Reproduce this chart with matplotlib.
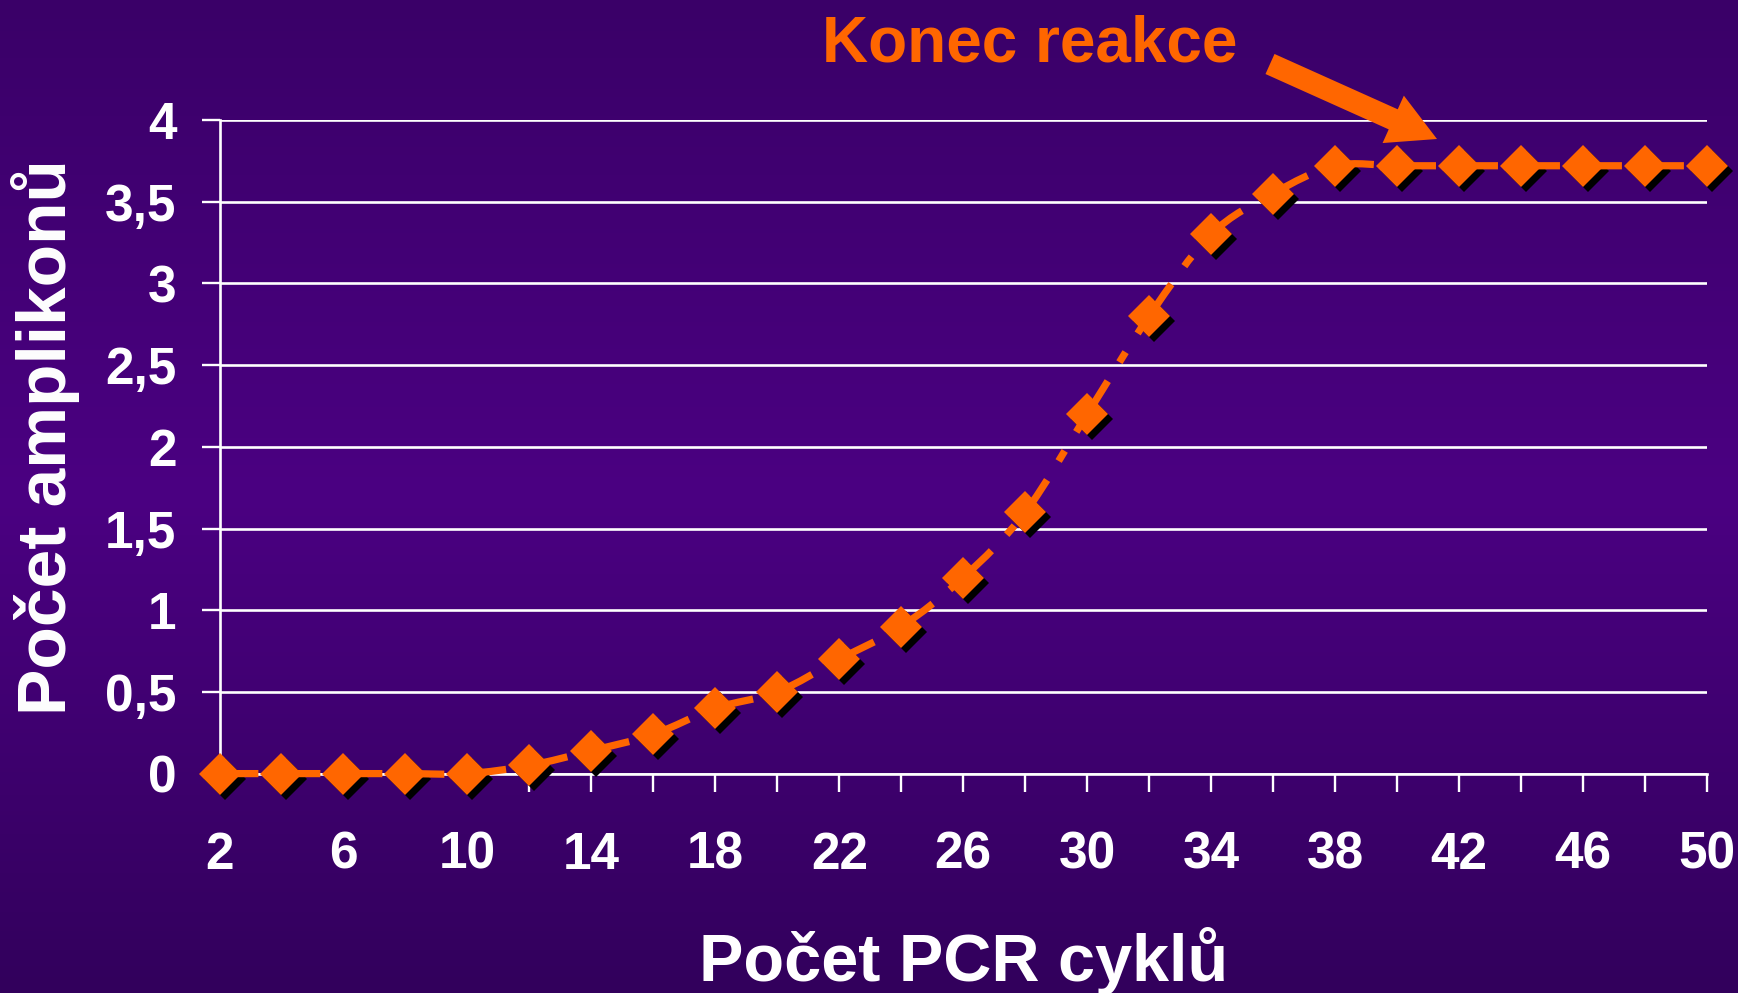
import numpy as np
import matplotlib
matplotlib.use("Agg")
import matplotlib.pyplot as plt
from matplotlib.colors import LinearSegmentedColormap
from matplotlib.path import Path
from matplotlib.patches import PathPatch, FancyArrow
import matplotlib.transforms as mtransforms

plt.rcParams['font.family'] = ['Liberation Sans', 'DejaVu Sans']
plt.rcParams['font.weight'] = 'bold'
plt.rcParams['lines.scale_dashes'] = False

# ---- data ----
cycles = [2, 4, 6, 8, 10, 12, 14, 16, 18, 20, 22, 24, 26, 28, 30, 32, 34, 36,
          38, 40, 42, 44, 46, 48, 50]
amplicons = [0, 0, 0, 0, 0, 0.05, 0.14, 0.24, 0.40, 0.50, 0.70, 0.90, 1.20,
             1.60, 2.20, 2.80, 3.30, 3.55, 3.72, 3.72, 3.72, 3.72, 3.72, 3.72, 3.72]
x_major = [2, 6, 10, 14, 18, 22, 26, 30, 34, 38, 42, 46, 50]
x_minor = [4, 8, 12, 16, 20, 24, 28, 32, 36, 40, 44, 48]
y_ticks = [0, 0.5, 1, 1.5, 2, 2.5, 3, 3.5, 4]
y_tick_labels = ["0", "0,5", "1", "1,5", "2", "2,5", "3", "3,5", "4"]
x_title = "Počet PCR cyklů"
y_title = "Počet amplikonů"
note = "Konec reakce"

ORANGE = "#FF6600"
W, H = 1738, 993
fig = plt.figure(figsize=(W / 100, H / 100), dpi=100)

# background gradient
bg = fig.add_axes([0, 0, 1, 1], zorder=-5)
cmap = LinearSegmentedColormap.from_list(
    "bg", [(0.0, "#3a0068"), (0.5, "#4b0082"), (1.0, "#32005c")])
grad = np.linspace(0, 1, 256).reshape(-1, 1)
bg.imshow(grad, aspect='auto', cmap=cmap, extent=[0, 1, 0, 1], origin='upper')
bg.set_axis_off()

# main axes
L, R, T, B = 219.5, 1707, 120, 773.6
ax = fig.add_axes([L / W, 1 - B / H, (R - L) / W, (B - T) / H])
ax.patch.set_alpha(0)
ax.set_xlim(2, 50)
ax.set_ylim(0, 4)

for s in ['top', 'right']:
    ax.spines[s].set_visible(False)
for s in ['left', 'bottom']:
    ax.spines[s].set_color('white')
    ax.spines[s].set_linewidth(1.9)
    ax.spines[s].set_zorder(1)

ax.set_yticks(y_ticks)
ax.set_yticklabels(y_tick_labels)
ax.set_xticks(x_major)
ax.set_xticks(x_minor, minor=True)
ax.tick_params(axis='y', colors='white', labelsize=37, length=13, width=1.7,
               direction='out', pad=18)
ax.tick_params(axis='x', which='both', colors='white', labelsize=37, length=13,
               width=1.7, direction='out', pad=28)
for lab in ax.get_xticklabels() + ax.get_yticklabels():
    lab.set_fontweight('bold')
ax.yaxis.grid(True, color='white', linewidth=1.9, zorder=0)
ax.set_axisbelow(True)

# smoothed dashed curve, dash pattern restarting per segment (Bezier from data)
P = np.column_stack([cycles, amplicons]).astype(float)
n = len(P)
tang = np.zeros_like(P)
for i in range(n):
    if i == 0:
        tang[i] = P[1] - P[0]
    elif i == n - 1:
        tang[i] = P[-1] - P[-2]
    else:
        tang[i] = (P[i + 1] - P[i - 1]) / 2.0
for i in range(n - 1):
    c1 = P[i] + tang[i] / 3.0
    c2 = P[i + 1] - tang[i + 1] / 3.0
    path = Path([P[i], c1, c2, P[i + 1]],
                [Path.MOVETO, Path.CURVE4, Path.CURVE4, Path.CURVE4])
    patch = PathPatch(path, fill=False, edgecolor=ORANGE, linewidth=5.2,
                      linestyle=(0, (28, 16, 8.5, 16)), capstyle='butt',
                      zorder=3, clip_on=False)
    ax.add_patch(patch)

# marker shadows + markers
MS = 21
shadow_tr = mtransforms.offset_copy(ax.transData, fig=fig, x=5, y=-5, units='dots')
ax.plot(cycles, amplicons, linestyle='none', marker='D', markersize=MS,
        color='black', markeredgewidth=0, transform=shadow_tr, zorder=2,
        clip_on=False)
ax.plot(cycles, amplicons, linestyle='none', marker='D', markersize=MS,
        color=ORANGE, markeredgewidth=0, zorder=4, clip_on=False)

# axis titles
fig.text(964 / W, 1 - 981 / H, x_title, color='white', fontsize=48,
         fontweight='bold', ha='center', va='baseline')
fig.text(46 / W, 1 - 437 / H, y_title, color='white', fontsize=50,
         fontweight='bold', ha='center', va='center', rotation=90)

# annotation
fig.text(1030 / W, 1 - 61 / H, note, color=ORANGE, fontsize=46,
         fontweight='bold', ha='center', va='baseline')
pix = mtransforms.Affine2D().scale(1, -1).translate(0, H)
arrow = FancyArrow(1270, 64, 167, 75, width=22, head_width=52, head_length=48,
                   length_includes_head=True, color=ORANGE, linewidth=0,
                   transform=pix)
fig.add_artist(arrow)

fig.savefig("out.png", dpi=100)
